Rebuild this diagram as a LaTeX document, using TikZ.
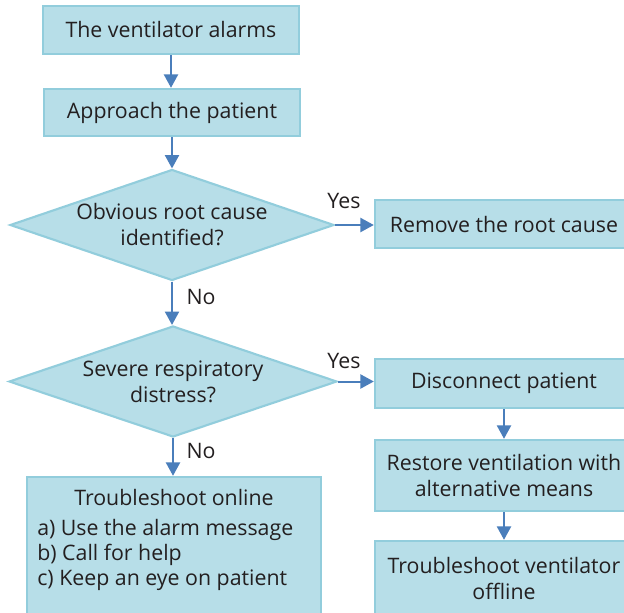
\documentclass[tikz,border=0pt]{standalone}
\usepackage{fontspec}
\setmainfont{Open Sans}
\usetikzlibrary{shapes.geometric,arrows.meta}
\definecolor{boxfill}{HTML}{B7DEE8}
\definecolor{boxline}{HTML}{92CDDC}
\definecolor{arrowc}{HTML}{4A7EBB}
\definecolor{txt}{HTML}{231F20}
\begin{document}
\begin{tikzpicture}[x=0.75pt,y=-0.75pt,
  txtf/.style={text=txt, font=\fontsize{16}{19.5}\selectfont},
  box/.style={txtf, draw=boxline, fill=boxfill, line width=1.8pt, inner sep=0pt, align=center},
  dia/.style={diamond, draw=boxline, fill=boxfill, line width=1.6pt, inner sep=0pt, aspect=3},
  arr/.style={draw=arrowc, line width=1.5pt, -{Triangle[length=10pt,width=10.5pt]}},
  lbl/.style={txtf, inner sep=0pt}]
\useasboundingbox (0,0) rectangle (624,613);
\clip (0,0) rectangle (624,613);
\fill[white] (0,0) rectangle (624,613);
% nodes
\node[box, minimum width=192pt, minimum height=36pt] (b1) at (171,30) {The ventilator alarms};
\node[box, minimum width=192pt, minimum height=35.25pt] (b2) at (172,112.5) {Approach the patient};
\node[dia, minimum width=243pt, minimum height=83.25pt] (d1) at (172,225) {};
\node[lbl, align=center] at (d1) {Obvious root cause\\identified?};
\node[box, minimum width=193.5pt, minimum height=36pt] (rm) at (504,224) {Remove the root cause};
\node[dia, minimum width=246pt, minimum height=83.25pt] (d2) at (173,381.5) {};
\node[lbl, align=center] at (d2) {Severe respiratory\\distress?};
\node[box, minimum width=193.5pt, minimum height=36.75pt] (dc) at (504,383.5) {Disconnect patient};
\node[box, minimum width=193.5pt, minimum height=53.25pt] (rs) at (504,475.5) {Restore ventilation with\\alternative means};
\node[box, minimum width=193.5pt, minimum height=56.25pt] (tv) at (504,578.5) {Troubleshoot ventilator\\offline};
\node[box, minimum width=220.5pt, minimum height=108pt] (on) at (174,549) {};
\node[lbl] at (174,497) {Troubleshoot online};
\node[lbl, anchor=west] at (37,530) {a) Use the alarm message};
\node[lbl, anchor=west] at (37,555) {b) Call for help};
\node[lbl, anchor=west] at (37,580) {c) Keep an eye on patient};
% connectors
\draw[arr] (b1.south) -- (b1.south |- b2.north);
\draw[arr] (b2.south) -- (b2.south |- d1.north);
\draw[arr] (d1.east) -- (d1.east -| rm.west);
\draw[arr] (d1.south) -- (d1.south |- d2.north);
\draw[arr] (d2.east) -- (d2.east -| dc.west);
\draw[arr] (dc.south) -- (rs.north);
\draw[arr] (rs.south) -- (tv.north);
\draw[arr] (d2.south) -- (d2.south |- on.north);
% labels
\node[lbl] at (344,201) {Yes};
\node[lbl] at (344,361) {Yes};
\node[lbl] at (201,297) {No};
\node[lbl] at (201,451) {No};
\end{tikzpicture}
\end{document}
